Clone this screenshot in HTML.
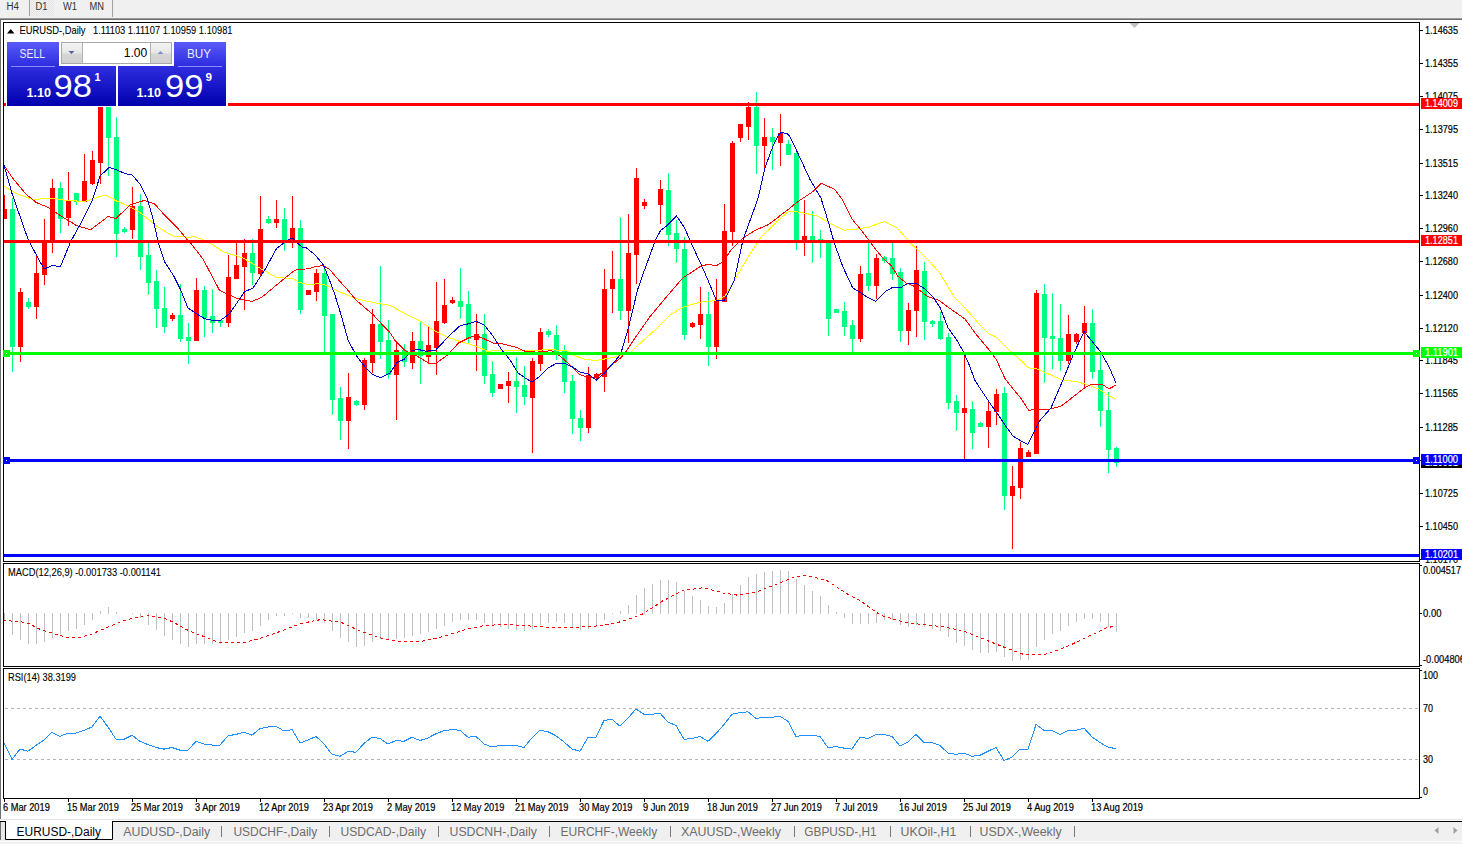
<!DOCTYPE html>
<html><head><meta charset="utf-8"><title>EURUSD Daily</title>
<style>html,body{margin:0;padding:0;background:#fff;overflow:hidden;}svg{display:block;}</style></head>
<body><svg width="1462" height="844" viewBox="0 0 1462 844">
<rect x="0" y="0" width="1462" height="18" fill="#f0f0f0"/>
<defs><linearGradient id="pg3" gradientUnits="userSpaceOnUse" x1="0" y1="42" x2="0" y2="106"><stop offset="0" stop-color="#5a5afa"/><stop offset="0.35" stop-color="#3030e2"/><stop offset="1" stop-color="#0000ae"/></linearGradient></defs>
<defs><linearGradient id="pg2" gradientUnits="userSpaceOnUse" x1="0" y1="42" x2="0" y2="106"><stop offset="0" stop-color="#5a5afa"/><stop offset="0.35" stop-color="#3030e2"/><stop offset="1" stop-color="#0000ae"/></linearGradient></defs>
<defs><pattern id="dots" width="2" height="2" patternUnits="userSpaceOnUse"><rect width="2" height="2" fill="#f4f4f4"/><rect width="1" height="1" fill="#e2e2e2"/><rect x="1" y="1" width="1" height="1" fill="#e2e2e2"/></pattern><linearGradient id="pg" x1="0" y1="0" x2="0" y2="1"><stop offset="0" stop-color="#5656f6"/><stop offset="0.4" stop-color="#2a2ad8"/><stop offset="1" stop-color="#0000aa"/></linearGradient><linearGradient id="btn" x1="0" y1="0" x2="0" y2="1"><stop offset="0" stop-color="#f4f4f4"/><stop offset="0.5" stop-color="#e6e6e6"/><stop offset="0.55" stop-color="#d6d6d6"/><stop offset="1" stop-color="#d0d0d0"/></linearGradient></defs>
<rect x="30" y="0" width="24" height="16" fill="url(#dots)"/>
<rect x="29" y="0" width="1" height="16" fill="#a0a0a0"/>
<rect x="112" y="0" width="1" height="17" fill="#a0a0a0"/>
<rect x="0" y="18" width="1462" height="1" fill="#9a9a9a"/>
<rect x="0" y="19" width="1462" height="1" fill="#6e6e6e"/>
<rect x="0" y="20" width="1" height="799" fill="#6e6e6e"/>
<rect x="3.5" y="22.5" width="1416" height="539" fill="none" stroke="#000" stroke-width="1"/>
<rect x="3.5" y="563.5" width="1416" height="103" fill="none" stroke="#000" stroke-width="1"/>
<rect x="3.5" y="668.5" width="1416" height="130" fill="none" stroke="#000" stroke-width="1"/>
<clipPath id="cm"><rect x="4" y="23" width="1415" height="538"/></clipPath>
<clipPath id="cmacd"><rect x="4" y="564" width="1415" height="102"/></clipPath>
<clipPath id="crsi"><rect x="4" y="669" width="1415" height="129"/></clipPath>
<g clip-path="url(#cm)" shape-rendering="crispEdges">
<rect x="4" y="195" width="1" height="24" fill="#ff0000"/>
<rect x="2" y="209" width="5" height="10" fill="#ff0000"/>
<rect x="12" y="198" width="1" height="174" fill="#00ff7f"/>
<rect x="10" y="209" width="5" height="138" fill="#00ff7f"/>
<rect x="20" y="288" width="1" height="74" fill="#ff0000"/>
<rect x="18" y="292" width="5" height="55" fill="#ff0000"/>
<rect x="28" y="298" width="1" height="11" fill="#00ff7f"/>
<rect x="26" y="302" width="5" height="5" fill="#00ff7f"/>
<rect x="36" y="256" width="1" height="63" fill="#ff0000"/>
<rect x="34" y="273" width="5" height="34" fill="#ff0000"/>
<rect x="44" y="219" width="1" height="66" fill="#ff0000"/>
<rect x="42" y="240" width="5" height="35" fill="#ff0000"/>
<rect x="52" y="179" width="1" height="74" fill="#ff0000"/>
<rect x="50" y="188" width="5" height="54" fill="#ff0000"/>
<rect x="60" y="182" width="1" height="51" fill="#00ff7f"/>
<rect x="58" y="188" width="5" height="31" fill="#00ff7f"/>
<rect x="68" y="172" width="1" height="54" fill="#ff0000"/>
<rect x="66" y="201" width="5" height="17" fill="#ff0000"/>
<rect x="76" y="193" width="1" height="12" fill="#00ff7f"/>
<rect x="74" y="193" width="5" height="9" fill="#00ff7f"/>
<rect x="84" y="154" width="1" height="48" fill="#ff0000"/>
<rect x="82" y="181" width="5" height="21" fill="#ff0000"/>
<rect x="92" y="151" width="1" height="34" fill="#ff0000"/>
<rect x="90" y="160" width="5" height="24" fill="#ff0000"/>
<rect x="100" y="100" width="1" height="84" fill="#ff0000"/>
<rect x="98" y="106" width="5" height="57" fill="#ff0000"/>
<rect x="108" y="100" width="1" height="76" fill="#00ff7f"/>
<rect x="106" y="106" width="5" height="32" fill="#00ff7f"/>
<rect x="116" y="117" width="1" height="140" fill="#00ff7f"/>
<rect x="114" y="137" width="5" height="97" fill="#00ff7f"/>
<rect x="124" y="227" width="1" height="6" fill="#00ff7f"/>
<rect x="122" y="229" width="5" height="3" fill="#00ff7f"/>
<rect x="132" y="187" width="1" height="52" fill="#ff0000"/>
<rect x="130" y="206" width="5" height="24" fill="#ff0000"/>
<rect x="140" y="194" width="1" height="76" fill="#00ff7f"/>
<rect x="138" y="206" width="5" height="51" fill="#00ff7f"/>
<rect x="148" y="243" width="1" height="52" fill="#00ff7f"/>
<rect x="146" y="255" width="5" height="28" fill="#00ff7f"/>
<rect x="156" y="270" width="1" height="58" fill="#00ff7f"/>
<rect x="154" y="281" width="5" height="28" fill="#00ff7f"/>
<rect x="164" y="287" width="1" height="46" fill="#00ff7f"/>
<rect x="162" y="308" width="5" height="19" fill="#00ff7f"/>
<rect x="172" y="313" width="1" height="8" fill="#ff0000"/>
<rect x="170" y="315" width="5" height="4" fill="#ff0000"/>
<rect x="180" y="284" width="1" height="58" fill="#00ff7f"/>
<rect x="178" y="315" width="5" height="24" fill="#00ff7f"/>
<rect x="188" y="323" width="1" height="41" fill="#00ff7f"/>
<rect x="186" y="337" width="5" height="4" fill="#00ff7f"/>
<rect x="196" y="278" width="1" height="63" fill="#ff0000"/>
<rect x="194" y="290" width="5" height="51" fill="#ff0000"/>
<rect x="204" y="286" width="1" height="51" fill="#00ff7f"/>
<rect x="202" y="290" width="5" height="28" fill="#00ff7f"/>
<rect x="212" y="289" width="1" height="44" fill="#00ff7f"/>
<rect x="210" y="316" width="5" height="7" fill="#00ff7f"/>
<rect x="220" y="320" width="1" height="7" fill="#00ff7f"/>
<rect x="218" y="320" width="5" height="3" fill="#00ff7f"/>
<rect x="228" y="255" width="1" height="72" fill="#ff0000"/>
<rect x="226" y="277" width="5" height="46" fill="#ff0000"/>
<rect x="236" y="243" width="1" height="36" fill="#ff0000"/>
<rect x="234" y="265" width="5" height="14" fill="#ff0000"/>
<rect x="244" y="239" width="1" height="71" fill="#ff0000"/>
<rect x="242" y="253" width="5" height="14" fill="#ff0000"/>
<rect x="252" y="239" width="1" height="46" fill="#00ff7f"/>
<rect x="250" y="253" width="5" height="20" fill="#00ff7f"/>
<rect x="260" y="196" width="1" height="81" fill="#ff0000"/>
<rect x="258" y="229" width="5" height="45" fill="#ff0000"/>
<rect x="268" y="216" width="1" height="8" fill="#00ff7f"/>
<rect x="266" y="219" width="5" height="4" fill="#00ff7f"/>
<rect x="276" y="200" width="1" height="28" fill="#ff0000"/>
<rect x="274" y="219" width="5" height="4" fill="#ff0000"/>
<rect x="284" y="208" width="1" height="43" fill="#00ff7f"/>
<rect x="282" y="219" width="5" height="24" fill="#00ff7f"/>
<rect x="292" y="196" width="1" height="52" fill="#ff0000"/>
<rect x="290" y="228" width="5" height="13" fill="#ff0000"/>
<rect x="300" y="220" width="1" height="94" fill="#00ff7f"/>
<rect x="298" y="228" width="5" height="82" fill="#00ff7f"/>
<rect x="308" y="290" width="1" height="5" fill="#ff0000"/>
<rect x="306" y="290" width="5" height="5" fill="#ff0000"/>
<rect x="316" y="269" width="1" height="32" fill="#ff0000"/>
<rect x="314" y="273" width="5" height="19" fill="#ff0000"/>
<rect x="324" y="269" width="1" height="84" fill="#00ff7f"/>
<rect x="322" y="273" width="5" height="43" fill="#00ff7f"/>
<rect x="332" y="314" width="1" height="101" fill="#00ff7f"/>
<rect x="330" y="314" width="5" height="86" fill="#00ff7f"/>
<rect x="340" y="387" width="1" height="53" fill="#00ff7f"/>
<rect x="338" y="398" width="5" height="23" fill="#00ff7f"/>
<rect x="348" y="373" width="1" height="76" fill="#ff0000"/>
<rect x="346" y="397" width="5" height="24" fill="#ff0000"/>
<rect x="356" y="400" width="1" height="6" fill="#00ff7f"/>
<rect x="354" y="401" width="5" height="4" fill="#00ff7f"/>
<rect x="364" y="358" width="1" height="52" fill="#ff0000"/>
<rect x="362" y="360" width="5" height="45" fill="#ff0000"/>
<rect x="372" y="309" width="1" height="64" fill="#ff0000"/>
<rect x="370" y="324" width="5" height="39" fill="#ff0000"/>
<rect x="380" y="266" width="1" height="93" fill="#00ff7f"/>
<rect x="378" y="324" width="5" height="18" fill="#00ff7f"/>
<rect x="388" y="320" width="1" height="59" fill="#00ff7f"/>
<rect x="386" y="340" width="5" height="35" fill="#00ff7f"/>
<rect x="396" y="342" width="1" height="78" fill="#ff0000"/>
<rect x="394" y="350" width="5" height="25" fill="#ff0000"/>
<rect x="404" y="344" width="1" height="23" fill="#00ff7f"/>
<rect x="402" y="350" width="5" height="12" fill="#00ff7f"/>
<rect x="412" y="332" width="1" height="37" fill="#ff0000"/>
<rect x="410" y="341" width="5" height="22" fill="#ff0000"/>
<rect x="420" y="322" width="1" height="62" fill="#00ff7f"/>
<rect x="418" y="341" width="5" height="15" fill="#00ff7f"/>
<rect x="428" y="326" width="1" height="37" fill="#ff0000"/>
<rect x="426" y="345" width="5" height="12" fill="#ff0000"/>
<rect x="436" y="282" width="1" height="93" fill="#ff0000"/>
<rect x="434" y="321" width="5" height="27" fill="#ff0000"/>
<rect x="444" y="279" width="1" height="45" fill="#ff0000"/>
<rect x="442" y="305" width="5" height="18" fill="#ff0000"/>
<rect x="452" y="297" width="1" height="7" fill="#ff0000"/>
<rect x="450" y="300" width="5" height="3" fill="#ff0000"/>
<rect x="460" y="268" width="1" height="51" fill="#00ff7f"/>
<rect x="458" y="301" width="5" height="6" fill="#00ff7f"/>
<rect x="468" y="291" width="1" height="52" fill="#00ff7f"/>
<rect x="466" y="304" width="5" height="35" fill="#00ff7f"/>
<rect x="476" y="314" width="1" height="57" fill="#ff0000"/>
<rect x="474" y="334" width="5" height="6" fill="#ff0000"/>
<rect x="484" y="314" width="1" height="70" fill="#00ff7f"/>
<rect x="482" y="334" width="5" height="42" fill="#00ff7f"/>
<rect x="492" y="361" width="1" height="36" fill="#00ff7f"/>
<rect x="490" y="374" width="5" height="19" fill="#00ff7f"/>
<rect x="500" y="384" width="1" height="5" fill="#ff0000"/>
<rect x="498" y="384" width="5" height="5" fill="#ff0000"/>
<rect x="508" y="372" width="1" height="31" fill="#ff0000"/>
<rect x="506" y="381" width="5" height="5" fill="#ff0000"/>
<rect x="516" y="357" width="1" height="56" fill="#00ff7f"/>
<rect x="514" y="381" width="5" height="6" fill="#00ff7f"/>
<rect x="524" y="366" width="1" height="39" fill="#00ff7f"/>
<rect x="522" y="385" width="5" height="12" fill="#00ff7f"/>
<rect x="532" y="358" width="1" height="95" fill="#ff0000"/>
<rect x="530" y="361" width="5" height="37" fill="#ff0000"/>
<rect x="540" y="328" width="1" height="43" fill="#ff0000"/>
<rect x="538" y="332" width="5" height="32" fill="#ff0000"/>
<rect x="548" y="329" width="1" height="8" fill="#00ff7f"/>
<rect x="546" y="331" width="5" height="4" fill="#00ff7f"/>
<rect x="556" y="325" width="1" height="35" fill="#00ff7f"/>
<rect x="554" y="335" width="5" height="17" fill="#00ff7f"/>
<rect x="564" y="345" width="1" height="48" fill="#00ff7f"/>
<rect x="562" y="351" width="5" height="31" fill="#00ff7f"/>
<rect x="572" y="375" width="1" height="59" fill="#00ff7f"/>
<rect x="570" y="381" width="5" height="38" fill="#00ff7f"/>
<rect x="580" y="410" width="1" height="31" fill="#00ff7f"/>
<rect x="578" y="418" width="5" height="10" fill="#00ff7f"/>
<rect x="588" y="367" width="1" height="66" fill="#ff0000"/>
<rect x="586" y="375" width="5" height="53" fill="#ff0000"/>
<rect x="596" y="373" width="1" height="7" fill="#ff0000"/>
<rect x="594" y="374" width="5" height="4" fill="#ff0000"/>
<rect x="604" y="269" width="1" height="123" fill="#ff0000"/>
<rect x="602" y="289" width="5" height="88" fill="#ff0000"/>
<rect x="612" y="251" width="1" height="62" fill="#ff0000"/>
<rect x="610" y="279" width="5" height="10" fill="#ff0000"/>
<rect x="620" y="217" width="1" height="103" fill="#00ff7f"/>
<rect x="618" y="279" width="5" height="32" fill="#00ff7f"/>
<rect x="628" y="214" width="1" height="129" fill="#ff0000"/>
<rect x="626" y="253" width="5" height="58" fill="#ff0000"/>
<rect x="636" y="168" width="1" height="116" fill="#ff0000"/>
<rect x="634" y="178" width="5" height="77" fill="#ff0000"/>
<rect x="644" y="199" width="1" height="10" fill="#ff0000"/>
<rect x="642" y="202" width="5" height="4" fill="#ff0000"/>
<rect x="660" y="180" width="1" height="44" fill="#ff0000"/>
<rect x="658" y="189" width="5" height="16" fill="#ff0000"/>
<rect x="668" y="173" width="1" height="73" fill="#00ff7f"/>
<rect x="666" y="190" width="5" height="45" fill="#00ff7f"/>
<rect x="676" y="220" width="1" height="43" fill="#00ff7f"/>
<rect x="674" y="233" width="5" height="16" fill="#00ff7f"/>
<rect x="684" y="237" width="1" height="103" fill="#00ff7f"/>
<rect x="682" y="249" width="5" height="86" fill="#00ff7f"/>
<rect x="692" y="322" width="1" height="6" fill="#ff0000"/>
<rect x="690" y="323" width="5" height="4" fill="#ff0000"/>
<rect x="700" y="287" width="1" height="52" fill="#ff0000"/>
<rect x="698" y="314" width="5" height="11" fill="#ff0000"/>
<rect x="708" y="292" width="1" height="74" fill="#00ff7f"/>
<rect x="706" y="314" width="5" height="33" fill="#00ff7f"/>
<rect x="716" y="279" width="1" height="80" fill="#ff0000"/>
<rect x="714" y="301" width="5" height="46" fill="#ff0000"/>
<rect x="724" y="204" width="1" height="98" fill="#ff0000"/>
<rect x="722" y="231" width="5" height="71" fill="#ff0000"/>
<rect x="732" y="141" width="1" height="105" fill="#ff0000"/>
<rect x="730" y="143" width="5" height="89" fill="#ff0000"/>
<rect x="740" y="124" width="1" height="18" fill="#ff0000"/>
<rect x="738" y="124" width="5" height="14" fill="#ff0000"/>
<rect x="748" y="102" width="1" height="38" fill="#ff0000"/>
<rect x="746" y="107" width="5" height="20" fill="#ff0000"/>
<rect x="756" y="92" width="1" height="82" fill="#00ff7f"/>
<rect x="754" y="107" width="5" height="39" fill="#00ff7f"/>
<rect x="764" y="118" width="1" height="51" fill="#ff0000"/>
<rect x="762" y="137" width="5" height="9" fill="#ff0000"/>
<rect x="772" y="128" width="1" height="42" fill="#00ff7f"/>
<rect x="770" y="137" width="5" height="5" fill="#00ff7f"/>
<rect x="780" y="114" width="1" height="52" fill="#ff0000"/>
<rect x="778" y="133" width="5" height="10" fill="#ff0000"/>
<rect x="788" y="140" width="1" height="15" fill="#00ff7f"/>
<rect x="786" y="144" width="5" height="11" fill="#00ff7f"/>
<rect x="796" y="149" width="1" height="101" fill="#00ff7f"/>
<rect x="794" y="153" width="5" height="88" fill="#00ff7f"/>
<rect x="804" y="200" width="1" height="56" fill="#ff0000"/>
<rect x="802" y="236" width="5" height="5" fill="#ff0000"/>
<rect x="812" y="211" width="1" height="52" fill="#00ff7f"/>
<rect x="810" y="236" width="5" height="5" fill="#00ff7f"/>
<rect x="820" y="230" width="1" height="28" fill="#00ff7f"/>
<rect x="818" y="239" width="5" height="2" fill="#00ff7f"/>
<rect x="828" y="240" width="1" height="96" fill="#00ff7f"/>
<rect x="826" y="240" width="5" height="79" fill="#00ff7f"/>
<rect x="836" y="309" width="1" height="4" fill="#00ff7f"/>
<rect x="834" y="309" width="5" height="4" fill="#00ff7f"/>
<rect x="844" y="302" width="1" height="34" fill="#00ff7f"/>
<rect x="842" y="311" width="5" height="16" fill="#00ff7f"/>
<rect x="852" y="320" width="1" height="32" fill="#00ff7f"/>
<rect x="850" y="325" width="5" height="14" fill="#00ff7f"/>
<rect x="860" y="266" width="1" height="76" fill="#ff0000"/>
<rect x="858" y="274" width="5" height="65" fill="#ff0000"/>
<rect x="868" y="242" width="1" height="49" fill="#00ff7f"/>
<rect x="866" y="273" width="5" height="13" fill="#00ff7f"/>
<rect x="876" y="254" width="1" height="45" fill="#ff0000"/>
<rect x="874" y="258" width="5" height="28" fill="#ff0000"/>
<rect x="884" y="256" width="1" height="7" fill="#00ff7f"/>
<rect x="882" y="257" width="5" height="4" fill="#00ff7f"/>
<rect x="892" y="243" width="1" height="37" fill="#00ff7f"/>
<rect x="890" y="258" width="5" height="16" fill="#00ff7f"/>
<rect x="900" y="268" width="1" height="74" fill="#00ff7f"/>
<rect x="898" y="272" width="5" height="59" fill="#00ff7f"/>
<rect x="908" y="303" width="1" height="42" fill="#ff0000"/>
<rect x="906" y="310" width="5" height="21" fill="#ff0000"/>
<rect x="916" y="246" width="1" height="91" fill="#ff0000"/>
<rect x="914" y="270" width="5" height="41" fill="#ff0000"/>
<rect x="924" y="262" width="1" height="78" fill="#00ff7f"/>
<rect x="922" y="271" width="5" height="51" fill="#00ff7f"/>
<rect x="932" y="320" width="1" height="7" fill="#00ff7f"/>
<rect x="930" y="321" width="5" height="3" fill="#00ff7f"/>
<rect x="940" y="312" width="1" height="28" fill="#00ff7f"/>
<rect x="938" y="321" width="5" height="18" fill="#00ff7f"/>
<rect x="948" y="333" width="1" height="76" fill="#00ff7f"/>
<rect x="946" y="337" width="5" height="66" fill="#00ff7f"/>
<rect x="956" y="395" width="1" height="36" fill="#00ff7f"/>
<rect x="954" y="401" width="5" height="12" fill="#00ff7f"/>
<rect x="964" y="355" width="1" height="104" fill="#ff0000"/>
<rect x="962" y="408" width="5" height="5" fill="#ff0000"/>
<rect x="972" y="401" width="1" height="48" fill="#00ff7f"/>
<rect x="970" y="409" width="5" height="24" fill="#00ff7f"/>
<rect x="980" y="422" width="1" height="5" fill="#00ff7f"/>
<rect x="978" y="423" width="5" height="4" fill="#00ff7f"/>
<rect x="988" y="401" width="1" height="47" fill="#ff0000"/>
<rect x="986" y="411" width="5" height="16" fill="#ff0000"/>
<rect x="996" y="389" width="1" height="36" fill="#ff0000"/>
<rect x="994" y="394" width="5" height="18" fill="#ff0000"/>
<rect x="1004" y="387" width="1" height="123" fill="#00ff7f"/>
<rect x="1002" y="393" width="5" height="103" fill="#00ff7f"/>
<rect x="1012" y="466" width="1" height="83" fill="#ff0000"/>
<rect x="1010" y="486" width="5" height="10" fill="#ff0000"/>
<rect x="1020" y="442" width="1" height="57" fill="#ff0000"/>
<rect x="1018" y="448" width="5" height="40" fill="#ff0000"/>
<rect x="1028" y="450" width="1" height="7" fill="#ff0000"/>
<rect x="1026" y="452" width="5" height="5" fill="#ff0000"/>
<rect x="1036" y="290" width="1" height="164" fill="#ff0000"/>
<rect x="1034" y="293" width="5" height="161" fill="#ff0000"/>
<rect x="1044" y="284" width="1" height="99" fill="#00ff7f"/>
<rect x="1042" y="294" width="5" height="44" fill="#00ff7f"/>
<rect x="1052" y="293" width="1" height="76" fill="#00ff7f"/>
<rect x="1050" y="336" width="5" height="3" fill="#00ff7f"/>
<rect x="1060" y="304" width="1" height="67" fill="#00ff7f"/>
<rect x="1058" y="338" width="5" height="23" fill="#00ff7f"/>
<rect x="1068" y="315" width="1" height="49" fill="#ff0000"/>
<rect x="1066" y="334" width="5" height="27" fill="#ff0000"/>
<rect x="1076" y="333" width="1" height="11" fill="#ff0000"/>
<rect x="1074" y="334" width="5" height="8" fill="#ff0000"/>
<rect x="1084" y="306" width="1" height="83" fill="#ff0000"/>
<rect x="1082" y="323" width="5" height="10" fill="#ff0000"/>
<rect x="1092" y="309" width="1" height="70" fill="#00ff7f"/>
<rect x="1090" y="323" width="5" height="49" fill="#00ff7f"/>
<rect x="1100" y="355" width="1" height="72" fill="#00ff7f"/>
<rect x="1098" y="370" width="5" height="41" fill="#00ff7f"/>
<rect x="1108" y="392" width="1" height="81" fill="#00ff7f"/>
<rect x="1106" y="410" width="5" height="40" fill="#00ff7f"/>
<rect x="1116" y="447" width="1" height="20" fill="#00ff7f"/>
<rect x="1114" y="448" width="5" height="15" fill="#00ff7f"/>
</g>
<g clip-path="url(#cm)">
<polyline points="4.0,186.3 16.0,193.4 32.3,199.4 52.4,198.4 66.5,200.4 84.7,201.5 94.8,198.4 100.0,196.4 106.0,195.2 116.0,200.8 128.3,205.8 140.4,212.9 156.5,226.0 172.6,236.0 186.7,237.1 195.2,236.9 202.7,239.7 212.9,245.0 223.6,252.0 242.6,257.7 261.5,269.1 276.7,277.6 293.7,278.6 298.3,282.0 308.2,284.6 318.2,283.7 326.5,285.4 336.4,290.4 348.0,295.4 359.7,299.5 372.9,302.5 390.0,305.3 400.6,311.4 420.5,321.4 433.8,330.5 447.0,337.1 460.3,341.6 473.6,345.4 484.0,349.6 486.6,351.1 511.5,350.6 553.0,349.8 566.2,350.6 574.5,355.6 584.2,359.0 595.8,360.7 614.4,357.1 630.4,352.5 641.0,342.4 657.0,328.2 670.0,314.9 682.7,307.4 698.6,302.4 716.4,300.6 725.3,295.8 734.2,280.7 746.6,259.4 760.8,237.2 772.0,226.5 778.0,220.6 788.7,211.2 801.2,212.3 817.8,216.2 831.0,224.0 844.3,230.1 854.2,229.4 868.0,227.3 884.0,221.6 897.2,228.0 910.0,242.5 928.2,259.9 939.9,273.2 954.8,298.0 968.0,311.3 979.7,324.6 989.6,334.5 996.2,337.0 1010.0,351.1 1021.3,360.7 1027.9,367.8 1036.2,368.5 1045.0,372.5 1062.9,380.3 1076.3,381.5 1086.7,384.5 1098.7,389.0 1107.6,394.9 1115.9,399.4" fill="none" stroke="#ffff00" stroke-width="1" shape-rendering="crispEdges" />
<polyline points="4.0,165.2 12.0,177.3 26.2,194.4 36.3,202.5 48.4,207.5 60.5,215.6 76.6,225.6 90.7,229.7 100.0,222.6 108.0,216.5 116.0,218.5 130.3,204.8 144.4,200.4 154.5,203.8 164.5,215.0 176.6,227.0 186.7,239.1 191.4,244.0 203.0,259.0 211.3,274.8 219.6,290.5 226.2,293.4 236.9,298.5 252.0,301.3 261.5,297.5 278.6,283.3 293.7,271.0 296.6,269.7 308.2,268.8 314.9,266.7 323.2,265.5 329.8,269.7 339.8,281.3 348.0,290.4 356.3,300.3 364.6,307.5 372.9,314.4 381.2,323.5 390.0,332.7 395.6,341.3 405.6,350.9 417.2,356.2 428.8,363.2 436.2,363.2 447.0,355.4 458.6,343.0 470.2,337.1 476.9,336.0 484.0,338.8 493.3,343.2 503.2,344.0 516.5,347.3 524.8,351.1 538.0,352.3 551.3,350.6 559.6,355.6 567.9,363.0 580.0,374.7 587.8,377.0 596.6,377.4 605.5,370.0 621.5,357.1 626.8,350.4 637.5,334.4 650.0,316.6 670.0,292.7 682.7,278.0 700.4,266.5 707.5,264.4 716.4,265.6 723.5,261.5 730.6,250.5 743.0,238.0 755.5,230.1 768.0,224.8 784.6,212.3 797.9,201.6 812.8,191.6 821.1,183.3 834.3,189.1 842.6,199.9 852.6,219.8 860.9,229.8 868.1,239.1 874.7,248.2 883.0,258.2 891.3,265.7 898.0,276.4 906.2,283.0 914.5,286.4 920.0,290.5 926.6,296.0 939.0,300.5 948.1,307.2 956.4,313.0 964.7,318.8 976.3,334.5 988.0,348.6 996.2,359.4 1004.7,378.1 1013.0,388.9 1021.3,398.8 1028.7,410.4 1034.5,409.3 1040.0,409.3 1050.0,409.0 1061.4,406.0 1071.8,397.9 1084.5,387.8 1091.2,384.2 1101.7,384.2 1109.1,388.7 1115.9,385.2" fill="none" stroke="#ff0000" stroke-width="1" shape-rendering="crispEdges" />
<polyline points="4.0,165.2 12.0,193.4 28.2,239.8 44.0,269.0 52.4,265.6 60.5,266.6 70.6,241.8 80.6,223.6 92.7,199.4 100.0,176.2 109.0,167.5 116.0,169.6 125.2,173.6 132.3,175.0 140.4,184.7 147.4,198.8 152.5,217.0 158.5,243.1 164.8,262.3 173.1,274.8 179.8,288.0 188.0,308.0 196.3,313.7 204.6,318.7 212.9,320.4 220.4,320.4 226.2,316.2 230.0,313.0 244.5,291.8 253.0,288.0 265.3,269.1 276.7,248.2 290.0,238.8 292.5,238.1 296.6,242.3 301.6,246.8 306.6,248.0 314.9,254.7 323.2,264.7 328.1,276.3 334.8,294.5 341.4,316.0 348.0,340.0 356.3,355.7 364.6,366.4 372.9,374.7 380.4,377.7 390.0,373.0 397.3,362.0 403.9,359.5 412.2,350.4 418.8,349.6 425.5,351.2 435.4,350.4 448.7,336.3 460.3,325.5 468.6,323.8 476.0,321.4 484.0,324.7 493.3,336.5 501.6,349.8 509.9,359.8 518.1,373.0 526.4,378.8 532.2,382.1 539.7,376.3 548.0,368.0 556.3,363.4 564.6,363.4 572.9,367.2 580.0,372.2 587.8,373.8 596.3,380.2 605.5,372.0 618.8,356.6 621.5,351.3 628.6,327.3 637.5,290.0 642.3,276.0 649.0,257.8 655.6,239.6 660.6,230.5 667.2,225.5 676.4,215.9 684.4,227.4 689.8,239.9 700.4,263.0 707.5,279.0 716.4,300.6 724.4,300.6 734.2,280.7 743.0,239.9 752.0,215.0 758.2,197.8 764.9,168.0 772.8,146.5 778.7,134.8 781.3,132.4 787.0,133.7 789.3,135.8 796.2,149.7 810.3,180.0 821.0,198.2 827.7,219.8 834.3,243.0 842.6,266.2 852.6,287.8 860.9,292.8 868.0,297.7 876.0,301.3 886.3,291.0 893.0,287.2 901.3,287.2 907.9,283.4 916.2,283.4 925.0,289.0 933.2,297.2 939.9,307.2 948.1,327.9 956.4,339.5 963.1,351.1 969.7,366.0 974.7,380.0 979.8,388.0 989.8,403.0 998.0,414.6 1006.3,427.0 1013.0,436.0 1021.3,441.1 1027.9,444.4 1034.5,431.2 1040.0,420.4 1051.0,408.0 1062.9,380.0 1073.3,354.6 1084.0,331.5 1100.2,351.3 1109.1,366.9 1115.9,382.7" fill="none" stroke="#0000c8" stroke-width="1" shape-rendering="crispEdges" />
</g>
<g shape-rendering="crispEdges">
<rect x="4" y="103" width="1415" height="3" fill="#ff0000"/>
<rect x="4" y="240" width="1415" height="3" fill="#ff0000"/>
<rect x="4" y="352" width="1415" height="3" fill="#00ff00"/>
<rect x="4" y="459" width="1415" height="3" fill="#0000ff"/>
<rect x="4" y="554" width="1415" height="3" fill="#0000ff"/>
<rect x="3" y="350" width="7" height="7" fill="#00ff00"/><rect x="6" y="353" width="1" height="1" fill="#fff"/>
<rect x="1413" y="350" width="7" height="7" fill="#00ff00"/><rect x="1416" y="353" width="1" height="1" fill="#fff"/>
<rect x="3" y="457" width="7" height="7" fill="#0000ff"/><rect x="6" y="460" width="1" height="1" fill="#fff"/>
<rect x="1413" y="457" width="7" height="7" fill="#0000ff"/><rect x="1416" y="460" width="1" height="1" fill="#fff"/>
</g>
<polygon points="1129.5,23 1139.5,23 1134.5,28" fill="#c0c0c0"/>
<g clip-path="url(#cmacd)" shape-rendering="crispEdges">
<rect x="4" y="613" width="1" height="7" fill="#c0c0c0"/>
<rect x="12" y="613" width="1" height="22" fill="#c0c0c0"/>
<rect x="20" y="613" width="1" height="27" fill="#c0c0c0"/>
<rect x="28" y="613" width="1" height="31" fill="#c0c0c0"/>
<rect x="36" y="613" width="1" height="31" fill="#c0c0c0"/>
<rect x="44" y="613" width="1" height="29" fill="#c0c0c0"/>
<rect x="52" y="613" width="1" height="25" fill="#c0c0c0"/>
<rect x="60" y="613" width="1" height="21" fill="#c0c0c0"/>
<rect x="68" y="613" width="1" height="18" fill="#c0c0c0"/>
<rect x="76" y="613" width="1" height="16" fill="#c0c0c0"/>
<rect x="84" y="613" width="1" height="12" fill="#c0c0c0"/>
<rect x="92" y="613" width="1" height="7" fill="#c0c0c0"/>
<rect x="100" y="611" width="1" height="3" fill="#c0c0c0"/>
<rect x="108" y="607" width="1" height="7" fill="#c0c0c0"/>
<rect x="116" y="612" width="1" height="2" fill="#c0c0c0"/>
<rect x="132" y="613" width="1" height="1" fill="#c0c0c0"/>
<rect x="140" y="613" width="1" height="5" fill="#c0c0c0"/>
<rect x="148" y="613" width="1" height="12" fill="#c0c0c0"/>
<rect x="156" y="613" width="1" height="17" fill="#c0c0c0"/>
<rect x="164" y="613" width="1" height="23" fill="#c0c0c0"/>
<rect x="172" y="613" width="1" height="27" fill="#c0c0c0"/>
<rect x="180" y="613" width="1" height="31" fill="#c0c0c0"/>
<rect x="188" y="613" width="1" height="34" fill="#c0c0c0"/>
<rect x="196" y="613" width="1" height="31" fill="#c0c0c0"/>
<rect x="204" y="613" width="1" height="31" fill="#c0c0c0"/>
<rect x="212" y="613" width="1" height="31" fill="#c0c0c0"/>
<rect x="220" y="613" width="1" height="31" fill="#c0c0c0"/>
<rect x="228" y="613" width="1" height="27" fill="#c0c0c0"/>
<rect x="236" y="613" width="1" height="24" fill="#c0c0c0"/>
<rect x="244" y="613" width="1" height="20" fill="#c0c0c0"/>
<rect x="252" y="613" width="1" height="18" fill="#c0c0c0"/>
<rect x="260" y="613" width="1" height="13" fill="#c0c0c0"/>
<rect x="268" y="613" width="1" height="7" fill="#c0c0c0"/>
<rect x="276" y="613" width="1" height="3" fill="#c0c0c0"/>
<rect x="284" y="613" width="1" height="3" fill="#c0c0c0"/>
<rect x="292" y="613" width="1" height="1" fill="#c0c0c0"/>
<rect x="300" y="613" width="1" height="5" fill="#c0c0c0"/>
<rect x="308" y="613" width="1" height="5" fill="#c0c0c0"/>
<rect x="316" y="613" width="1" height="7" fill="#c0c0c0"/>
<rect x="324" y="613" width="1" height="10" fill="#c0c0c0"/>
<rect x="332" y="613" width="1" height="18" fill="#c0c0c0"/>
<rect x="340" y="613" width="1" height="25" fill="#c0c0c0"/>
<rect x="348" y="613" width="1" height="29" fill="#c0c0c0"/>
<rect x="356" y="613" width="1" height="34" fill="#c0c0c0"/>
<rect x="364" y="613" width="1" height="33" fill="#c0c0c0"/>
<rect x="372" y="613" width="1" height="29" fill="#c0c0c0"/>
<rect x="380" y="613" width="1" height="26" fill="#c0c0c0"/>
<rect x="388" y="613" width="1" height="27" fill="#c0c0c0"/>
<rect x="396" y="613" width="1" height="26" fill="#c0c0c0"/>
<rect x="404" y="613" width="1" height="25" fill="#c0c0c0"/>
<rect x="412" y="613" width="1" height="23" fill="#c0c0c0"/>
<rect x="420" y="613" width="1" height="21" fill="#c0c0c0"/>
<rect x="428" y="613" width="1" height="19" fill="#c0c0c0"/>
<rect x="436" y="613" width="1" height="16" fill="#c0c0c0"/>
<rect x="444" y="613" width="1" height="13" fill="#c0c0c0"/>
<rect x="452" y="613" width="1" height="9" fill="#c0c0c0"/>
<rect x="460" y="613" width="1" height="7" fill="#c0c0c0"/>
<rect x="468" y="613" width="1" height="7" fill="#c0c0c0"/>
<rect x="476" y="613" width="1" height="7" fill="#c0c0c0"/>
<rect x="484" y="613" width="1" height="10" fill="#c0c0c0"/>
<rect x="492" y="613" width="1" height="12" fill="#c0c0c0"/>
<rect x="500" y="613" width="1" height="14" fill="#c0c0c0"/>
<rect x="508" y="613" width="1" height="16" fill="#c0c0c0"/>
<rect x="516" y="613" width="1" height="17" fill="#c0c0c0"/>
<rect x="524" y="613" width="1" height="18" fill="#c0c0c0"/>
<rect x="532" y="613" width="1" height="16" fill="#c0c0c0"/>
<rect x="540" y="613" width="1" height="12" fill="#c0c0c0"/>
<rect x="548" y="613" width="1" height="10" fill="#c0c0c0"/>
<rect x="556" y="613" width="1" height="9" fill="#c0c0c0"/>
<rect x="564" y="613" width="1" height="10" fill="#c0c0c0"/>
<rect x="572" y="613" width="1" height="14" fill="#c0c0c0"/>
<rect x="580" y="613" width="1" height="17" fill="#c0c0c0"/>
<rect x="588" y="613" width="1" height="16" fill="#c0c0c0"/>
<rect x="596" y="613" width="1" height="14" fill="#c0c0c0"/>
<rect x="604" y="613" width="1" height="7" fill="#c0c0c0"/>
<rect x="612" y="613" width="1" height="1" fill="#c0c0c0"/>
<rect x="620" y="611" width="1" height="3" fill="#c0c0c0"/>
<rect x="628" y="605" width="1" height="9" fill="#c0c0c0"/>
<rect x="636" y="595" width="1" height="19" fill="#c0c0c0"/>
<rect x="644" y="588" width="1" height="26" fill="#c0c0c0"/>
<rect x="652" y="584" width="1" height="30" fill="#c0c0c0"/>
<rect x="660" y="580" width="1" height="34" fill="#c0c0c0"/>
<rect x="668" y="580" width="1" height="34" fill="#c0c0c0"/>
<rect x="676" y="582" width="1" height="32" fill="#c0c0c0"/>
<rect x="684" y="591" width="1" height="23" fill="#c0c0c0"/>
<rect x="692" y="596" width="1" height="18" fill="#c0c0c0"/>
<rect x="700" y="600" width="1" height="14" fill="#c0c0c0"/>
<rect x="708" y="606" width="1" height="8" fill="#c0c0c0"/>
<rect x="716" y="607" width="1" height="7" fill="#c0c0c0"/>
<rect x="724" y="603" width="1" height="11" fill="#c0c0c0"/>
<rect x="732" y="594" width="1" height="20" fill="#c0c0c0"/>
<rect x="740" y="585" width="1" height="29" fill="#c0c0c0"/>
<rect x="748" y="577" width="1" height="37" fill="#c0c0c0"/>
<rect x="756" y="574" width="1" height="40" fill="#c0c0c0"/>
<rect x="764" y="572" width="1" height="42" fill="#c0c0c0"/>
<rect x="772" y="571" width="1" height="43" fill="#c0c0c0"/>
<rect x="780" y="570" width="1" height="44" fill="#c0c0c0"/>
<rect x="788" y="571" width="1" height="43" fill="#c0c0c0"/>
<rect x="796" y="579" width="1" height="35" fill="#c0c0c0"/>
<rect x="804" y="585" width="1" height="29" fill="#c0c0c0"/>
<rect x="812" y="591" width="1" height="23" fill="#c0c0c0"/>
<rect x="820" y="596" width="1" height="18" fill="#c0c0c0"/>
<rect x="828" y="605" width="1" height="9" fill="#c0c0c0"/>
<rect x="836" y="612" width="1" height="2" fill="#c0c0c0"/>
<rect x="844" y="613" width="1" height="5" fill="#c0c0c0"/>
<rect x="852" y="613" width="1" height="11" fill="#c0c0c0"/>
<rect x="860" y="613" width="1" height="11" fill="#c0c0c0"/>
<rect x="868" y="613" width="1" height="11" fill="#c0c0c0"/>
<rect x="876" y="613" width="1" height="10" fill="#c0c0c0"/>
<rect x="884" y="613" width="1" height="7" fill="#c0c0c0"/>
<rect x="892" y="613" width="1" height="7" fill="#c0c0c0"/>
<rect x="900" y="613" width="1" height="12" fill="#c0c0c0"/>
<rect x="908" y="613" width="1" height="14" fill="#c0c0c0"/>
<rect x="916" y="613" width="1" height="12" fill="#c0c0c0"/>
<rect x="924" y="613" width="1" height="14" fill="#c0c0c0"/>
<rect x="932" y="613" width="1" height="16" fill="#c0c0c0"/>
<rect x="940" y="613" width="1" height="18" fill="#c0c0c0"/>
<rect x="948" y="613" width="1" height="24" fill="#c0c0c0"/>
<rect x="956" y="613" width="1" height="30" fill="#c0c0c0"/>
<rect x="964" y="613" width="1" height="33" fill="#c0c0c0"/>
<rect x="972" y="613" width="1" height="37" fill="#c0c0c0"/>
<rect x="980" y="613" width="1" height="40" fill="#c0c0c0"/>
<rect x="988" y="613" width="1" height="40" fill="#c0c0c0"/>
<rect x="996" y="613" width="1" height="39" fill="#c0c0c0"/>
<rect x="1004" y="613" width="1" height="44" fill="#c0c0c0"/>
<rect x="1012" y="613" width="1" height="48" fill="#c0c0c0"/>
<rect x="1020" y="613" width="1" height="47" fill="#c0c0c0"/>
<rect x="1028" y="613" width="1" height="47" fill="#c0c0c0"/>
<rect x="1036" y="613" width="1" height="34" fill="#c0c0c0"/>
<rect x="1044" y="613" width="1" height="27" fill="#c0c0c0"/>
<rect x="1052" y="613" width="1" height="21" fill="#c0c0c0"/>
<rect x="1060" y="613" width="1" height="18" fill="#c0c0c0"/>
<rect x="1068" y="613" width="1" height="13" fill="#c0c0c0"/>
<rect x="1076" y="613" width="1" height="9" fill="#c0c0c0"/>
<rect x="1084" y="613" width="1" height="6" fill="#c0c0c0"/>
<rect x="1092" y="613" width="1" height="6" fill="#c0c0c0"/>
<rect x="1100" y="613" width="1" height="9" fill="#c0c0c0"/>
<rect x="1108" y="613" width="1" height="14" fill="#c0c0c0"/>
<rect x="1116" y="613" width="1" height="19" fill="#c0c0c0"/>
</g>
<g clip-path="url(#cmacd)">
<polyline points="3.0,620.5 20.5,621.6 28.7,623.6 41.0,629.8 51.0,632.8 65.7,637.0 78.0,638.0 92.0,633.9 108.8,626.7 127.0,619.5 147.8,615.8 164.0,617.9 174.0,622.6 188.8,630.8 205.0,637.0 217.5,642.0 242.0,643.0 254.5,640.0 271.0,634.9 287.0,628.7 300.5,623.6 321.0,619.5 341.5,622.6 362.0,631.8 382.6,638.4 403.0,642.0 423.6,641.0 444.0,636.3 464.7,629.8 485.0,625.3 505.7,624.6 526.0,625.7 546.8,627.3 577.0,627.3 601.0,625.7 621.6,621.6 642.0,614.4 662.6,601.0 683.0,590.4 703.6,587.7 724.0,593.2 738.5,595.3 755.0,592.4 775.5,584.6 796.0,576.4 806.3,575.4 826.8,580.5 847.3,593.9 860.5,601.0 881.0,615.4 901.6,621.6 922.0,624.6 942.6,626.7 963.0,630.8 983.6,639.0 1004.0,647.2 1024.7,654.8 1045.0,654.4 1065.7,647.2 1086.0,637.6 1106.8,627.7 1116.0,626.0" fill="none" stroke="#ff0000" stroke-width="1" shape-rendering="crispEdges" stroke-dasharray="3,3"/>
</g>
<g shape-rendering="crispEdges">
<line x1="5" y1="708.5" x2="1419" y2="708.5" stroke="#b4b4b4" stroke-dasharray="3,3"/>
<line x1="5" y1="759.5" x2="1419" y2="759.5" stroke="#b4b4b4" stroke-dasharray="3,3"/>
</g>
<g clip-path="url(#crsi)"><polyline points="4.0,743.0 12.0,759.4 20.0,749.1 28.0,751.2 36.0,745.4 44.0,740.0 52.0,732.3 60.0,736.4 68.0,733.1 76.0,733.1 84.0,730.3 92.0,727.0 100.0,716.3 108.0,727.0 116.0,739.3 124.0,739.3 132.0,735.2 140.0,741.3 148.0,744.6 156.0,747.5 164.0,749.1 172.0,747.5 180.0,750.2 188.0,750.2 196.0,741.3 204.0,744.0 212.0,745.0 220.0,745.0 228.0,735.8 236.0,734.4 244.0,732.3 252.0,735.2 260.0,728.6 268.0,727.0 276.0,726.2 284.0,731.0 292.0,729.6 300.0,743.0 308.0,740.0 316.0,736.4 324.0,744.0 332.0,754.3 340.0,756.3 348.0,751.6 356.0,752.2 364.0,743.4 372.0,737.2 380.0,738.5 388.0,744.0 396.0,740.5 404.0,741.3 412.0,737.2 420.0,740.5 428.0,737.9 436.0,733.7 444.0,730.7 452.0,729.6 460.0,730.3 468.0,737.2 476.0,736.4 484.0,744.0 492.0,747.0 500.0,745.4 508.0,745.4 516.0,745.4 524.0,747.5 532.0,737.9 540.0,730.3 548.0,731.7 556.0,735.8 564.0,742.0 572.0,749.1 580.0,751.2 588.0,737.2 596.0,737.2 604.0,720.4 612.0,719.4 620.0,726.2 628.0,718.0 636.0,709.1 644.0,714.3 652.0,714.3 660.0,713.2 668.0,722.0 676.0,725.5 684.0,739.3 692.0,738.5 700.0,736.4 708.0,741.3 716.0,733.7 724.0,724.5 732.0,714.3 740.0,712.6 748.0,711.8 756.0,718.4 764.0,717.3 772.0,717.3 780.0,716.3 788.0,721.4 796.0,736.4 804.0,735.2 812.0,735.2 820.0,736.4 828.0,747.5 836.0,746.7 844.0,748.1 852.0,749.1 860.0,737.2 868.0,738.5 876.0,734.4 884.0,734.4 892.0,736.4 900.0,746.0 908.0,742.0 916.0,734.4 924.0,742.6 932.0,742.6 940.0,745.4 948.0,753.2 956.0,754.3 964.0,753.2 972.0,756.3 980.0,755.3 988.0,751.2 996.0,747.5 1004.0,760.4 1012.0,757.3 1020.0,749.1 1028.0,749.1 1036.0,724.5 1044.0,730.3 1052.0,730.3 1060.0,734.4 1068.0,730.3 1076.0,730.3 1084.0,728.2 1092.0,736.8 1100.0,742.6 1108.0,747.1 1116.0,748.7" fill="none" stroke="#1e90ff" stroke-width="1" shape-rendering="crispEdges" /></g>
<g shape-rendering="crispEdges">
<rect x="1420" y="30" width="3" height="1" fill="#000"/>
<rect x="1420" y="63" width="3" height="1" fill="#000"/>
<rect x="1420" y="96" width="3" height="1" fill="#000"/>
<rect x="1420" y="129" width="3" height="1" fill="#000"/>
<rect x="1420" y="163" width="3" height="1" fill="#000"/>
<rect x="1420" y="195" width="3" height="1" fill="#000"/>
<rect x="1420" y="228" width="3" height="1" fill="#000"/>
<rect x="1420" y="261" width="3" height="1" fill="#000"/>
<rect x="1420" y="295" width="3" height="1" fill="#000"/>
<rect x="1420" y="328" width="3" height="1" fill="#000"/>
<rect x="1420" y="360" width="3" height="1" fill="#000"/>
<rect x="1420" y="393" width="3" height="1" fill="#000"/>
<rect x="1420" y="427" width="3" height="1" fill="#000"/>
<rect x="1420" y="460" width="3" height="1" fill="#000"/>
<rect x="1420" y="493" width="3" height="1" fill="#000"/>
<rect x="1420" y="526" width="3" height="1" fill="#000"/>
<rect x="1420" y="559" width="3" height="1" fill="#000"/>
</g>
<text x="1425" y="34" font-family='"Liberation Sans", sans-serif' font-size="10.5" fill="#000" font-weight="normal" text-anchor="start" textLength="33" lengthAdjust="spacingAndGlyphs" stroke="#000" stroke-width="0.2">1.14635</text>
<text x="1425" y="67" font-family='"Liberation Sans", sans-serif' font-size="10.5" fill="#000" font-weight="normal" text-anchor="start" textLength="33" lengthAdjust="spacingAndGlyphs" stroke="#000" stroke-width="0.2">1.14355</text>
<text x="1425" y="100" font-family='"Liberation Sans", sans-serif' font-size="10.5" fill="#000" font-weight="normal" text-anchor="start" textLength="33" lengthAdjust="spacingAndGlyphs" stroke="#000" stroke-width="0.2">1.14075</text>
<text x="1425" y="133" font-family='"Liberation Sans", sans-serif' font-size="10.5" fill="#000" font-weight="normal" text-anchor="start" textLength="33" lengthAdjust="spacingAndGlyphs" stroke="#000" stroke-width="0.2">1.13795</text>
<text x="1425" y="167" font-family='"Liberation Sans", sans-serif' font-size="10.5" fill="#000" font-weight="normal" text-anchor="start" textLength="33" lengthAdjust="spacingAndGlyphs" stroke="#000" stroke-width="0.2">1.13515</text>
<text x="1425" y="199" font-family='"Liberation Sans", sans-serif' font-size="10.5" fill="#000" font-weight="normal" text-anchor="start" textLength="33" lengthAdjust="spacingAndGlyphs" stroke="#000" stroke-width="0.2">1.13240</text>
<text x="1425" y="232" font-family='"Liberation Sans", sans-serif' font-size="10.5" fill="#000" font-weight="normal" text-anchor="start" textLength="33" lengthAdjust="spacingAndGlyphs" stroke="#000" stroke-width="0.2">1.12960</text>
<text x="1425" y="265" font-family='"Liberation Sans", sans-serif' font-size="10.5" fill="#000" font-weight="normal" text-anchor="start" textLength="33" lengthAdjust="spacingAndGlyphs" stroke="#000" stroke-width="0.2">1.12680</text>
<text x="1425" y="299" font-family='"Liberation Sans", sans-serif' font-size="10.5" fill="#000" font-weight="normal" text-anchor="start" textLength="33" lengthAdjust="spacingAndGlyphs" stroke="#000" stroke-width="0.2">1.12400</text>
<text x="1425" y="332" font-family='"Liberation Sans", sans-serif' font-size="10.5" fill="#000" font-weight="normal" text-anchor="start" textLength="33" lengthAdjust="spacingAndGlyphs" stroke="#000" stroke-width="0.2">1.12120</text>
<text x="1425" y="364" font-family='"Liberation Sans", sans-serif' font-size="10.5" fill="#000" font-weight="normal" text-anchor="start" textLength="33" lengthAdjust="spacingAndGlyphs" stroke="#000" stroke-width="0.2">1.11845</text>
<text x="1425" y="397" font-family='"Liberation Sans", sans-serif' font-size="10.5" fill="#000" font-weight="normal" text-anchor="start" textLength="33" lengthAdjust="spacingAndGlyphs" stroke="#000" stroke-width="0.2">1.11565</text>
<text x="1425" y="431" font-family='"Liberation Sans", sans-serif' font-size="10.5" fill="#000" font-weight="normal" text-anchor="start" textLength="33" lengthAdjust="spacingAndGlyphs" stroke="#000" stroke-width="0.2">1.11285</text>
<text x="1425" y="464" font-family='"Liberation Sans", sans-serif' font-size="10.5" fill="#000" font-weight="normal" text-anchor="start" textLength="33" lengthAdjust="spacingAndGlyphs" stroke="#000" stroke-width="0.2">1.11005</text>
<text x="1425" y="497" font-family='"Liberation Sans", sans-serif' font-size="10.5" fill="#000" font-weight="normal" text-anchor="start" textLength="33" lengthAdjust="spacingAndGlyphs" stroke="#000" stroke-width="0.2">1.10725</text>
<text x="1425" y="530" font-family='"Liberation Sans", sans-serif' font-size="10.5" fill="#000" font-weight="normal" text-anchor="start" textLength="33" lengthAdjust="spacingAndGlyphs" stroke="#000" stroke-width="0.2">1.10450</text>
<text x="1425" y="563" font-family='"Liberation Sans", sans-serif' font-size="10.5" fill="#000" font-weight="normal" text-anchor="start" textLength="33" lengthAdjust="spacingAndGlyphs" stroke="#000" stroke-width="0.2">1.10170</text>
<rect x="1421" y="457" width="41" height="11" fill="#000"/>
<text x="1425" y="466" font-family='"Liberation Sans", sans-serif' font-size="10.5" fill="#fff" font-weight="normal" text-anchor="start" textLength="33" lengthAdjust="spacingAndGlyphs" stroke="#fff" stroke-width="0.2">1.10981</text>
<rect x="1421" y="98" width="41" height="11" fill="#ff0000" shape-rendering="crispEdges"/>
<text x="1425" y="107" font-family='"Liberation Sans", sans-serif' font-size="10.5" fill="#fff" font-weight="normal" text-anchor="start" textLength="33" lengthAdjust="spacingAndGlyphs" stroke="#fff" stroke-width="0.2">1.14009</text>
<rect x="1421" y="235" width="41" height="11" fill="#ff0000" shape-rendering="crispEdges"/>
<text x="1425" y="244" font-family='"Liberation Sans", sans-serif' font-size="10.5" fill="#fff" font-weight="normal" text-anchor="start" textLength="33" lengthAdjust="spacingAndGlyphs" stroke="#fff" stroke-width="0.2">1.12851</text>
<rect x="1421" y="347" width="41" height="11" fill="#00ff00" shape-rendering="crispEdges"/>
<text x="1425" y="356" font-family='"Liberation Sans", sans-serif' font-size="10.5" fill="#fff" font-weight="normal" text-anchor="start" textLength="33" lengthAdjust="spacingAndGlyphs" stroke="#fff" stroke-width="0.2">1.11901</text>
<rect x="1421" y="454" width="41" height="11" fill="#0000ff" shape-rendering="crispEdges"/>
<text x="1425" y="463" font-family='"Liberation Sans", sans-serif' font-size="10.5" fill="#fff" font-weight="normal" text-anchor="start" textLength="33" lengthAdjust="spacingAndGlyphs" stroke="#fff" stroke-width="0.2">1.11000</text>
<rect x="1421" y="549" width="41" height="11" fill="#0000ff" shape-rendering="crispEdges"/>
<text x="1425" y="558" font-family='"Liberation Sans", sans-serif' font-size="10.5" fill="#fff" font-weight="normal" text-anchor="start" textLength="33" lengthAdjust="spacingAndGlyphs" stroke="#fff" stroke-width="0.2">1.10201</text>
<rect x="1420" y="565" width="2" height="1" fill="#000"/>
<rect x="1420" y="613" width="2" height="1" fill="#000"/>
<rect x="1420" y="665" width="2" height="1" fill="#000"/>
<text x="1423" y="574" font-family='"Liberation Sans", sans-serif' font-size="10.5" fill="#000" font-weight="normal" text-anchor="start" textLength="38" lengthAdjust="spacingAndGlyphs" stroke="#000" stroke-width="0.2">0.004517</text>
<text x="1423" y="617" font-family='"Liberation Sans", sans-serif' font-size="10.5" fill="#000" font-weight="normal" text-anchor="start" textLength="18.5" lengthAdjust="spacingAndGlyphs" stroke="#000" stroke-width="0.2">0.00</text>
<text x="1423" y="663" font-family='"Liberation Sans", sans-serif' font-size="10.5" fill="#000" font-weight="normal" text-anchor="start" textLength="42" lengthAdjust="spacingAndGlyphs" stroke="#000" stroke-width="0.2">-0.004806</text>
<rect x="1420" y="670" width="2" height="1" fill="#000"/>
<rect x="1420" y="797" width="2" height="1" fill="#000"/>
<text x="1423" y="679" font-family='"Liberation Sans", sans-serif' font-size="10.5" fill="#000" font-weight="normal" text-anchor="start" textLength="15" lengthAdjust="spacingAndGlyphs" stroke="#000" stroke-width="0.2">100</text>
<text x="1423" y="712" font-family='"Liberation Sans", sans-serif' font-size="10.5" fill="#000" font-weight="normal" text-anchor="start" textLength="10" lengthAdjust="spacingAndGlyphs" stroke="#000" stroke-width="0.2">70</text>
<text x="1423" y="763" font-family='"Liberation Sans", sans-serif' font-size="10.5" fill="#000" font-weight="normal" text-anchor="start" textLength="10" lengthAdjust="spacingAndGlyphs" stroke="#000" stroke-width="0.2">30</text>
<text x="1423" y="795" font-family='"Liberation Sans", sans-serif' font-size="10.5" fill="#000" font-weight="normal" text-anchor="start" textLength="5" lengthAdjust="spacingAndGlyphs" stroke="#000" stroke-width="0.2">0</text>
<g shape-rendering="crispEdges">
<rect x="4" y="799" width="1" height="3" fill="#000"/>
<rect x="68" y="799" width="1" height="3" fill="#000"/>
<rect x="132" y="799" width="1" height="3" fill="#000"/>
<rect x="196" y="799" width="1" height="3" fill="#000"/>
<rect x="260" y="799" width="1" height="3" fill="#000"/>
<rect x="324" y="799" width="1" height="3" fill="#000"/>
<rect x="388" y="799" width="1" height="3" fill="#000"/>
<rect x="452" y="799" width="1" height="3" fill="#000"/>
<rect x="516" y="799" width="1" height="3" fill="#000"/>
<rect x="580" y="799" width="1" height="3" fill="#000"/>
<rect x="644" y="799" width="1" height="3" fill="#000"/>
<rect x="708" y="799" width="1" height="3" fill="#000"/>
<rect x="772" y="799" width="1" height="3" fill="#000"/>
<rect x="836" y="799" width="1" height="3" fill="#000"/>
<rect x="900" y="799" width="1" height="3" fill="#000"/>
<rect x="964" y="799" width="1" height="3" fill="#000"/>
<rect x="1028" y="799" width="1" height="3" fill="#000"/>
<rect x="1092" y="799" width="1" height="3" fill="#000"/>
</g>
<text x="3" y="811" font-family='"Liberation Sans", sans-serif' font-size="10" fill="#000" font-weight="normal" text-anchor="start" textLength="46.8" lengthAdjust="spacingAndGlyphs" stroke="#000" stroke-width="0.2">6 Mar 2019</text>
<text x="67" y="811" font-family='"Liberation Sans", sans-serif' font-size="10" fill="#000" font-weight="normal" text-anchor="start" textLength="51.9" lengthAdjust="spacingAndGlyphs" stroke="#000" stroke-width="0.2">15 Mar 2019</text>
<text x="131" y="811" font-family='"Liberation Sans", sans-serif' font-size="10" fill="#000" font-weight="normal" text-anchor="start" textLength="51.9" lengthAdjust="spacingAndGlyphs" stroke="#000" stroke-width="0.2">25 Mar 2019</text>
<text x="195" y="811" font-family='"Liberation Sans", sans-serif' font-size="10" fill="#000" font-weight="normal" text-anchor="start" textLength="44.8" lengthAdjust="spacingAndGlyphs" stroke="#000" stroke-width="0.2">3 Apr 2019</text>
<text x="259" y="811" font-family='"Liberation Sans", sans-serif' font-size="10" fill="#000" font-weight="normal" text-anchor="start" textLength="49.9" lengthAdjust="spacingAndGlyphs" stroke="#000" stroke-width="0.2">12 Apr 2019</text>
<text x="323" y="811" font-family='"Liberation Sans", sans-serif' font-size="10" fill="#000" font-weight="normal" text-anchor="start" textLength="49.9" lengthAdjust="spacingAndGlyphs" stroke="#000" stroke-width="0.2">23 Apr 2019</text>
<text x="387" y="811" font-family='"Liberation Sans", sans-serif' font-size="10" fill="#000" font-weight="normal" text-anchor="start" textLength="48.4" lengthAdjust="spacingAndGlyphs" stroke="#000" stroke-width="0.2">2 May 2019</text>
<text x="451" y="811" font-family='"Liberation Sans", sans-serif' font-size="10" fill="#000" font-weight="normal" text-anchor="start" textLength="53.5" lengthAdjust="spacingAndGlyphs" stroke="#000" stroke-width="0.2">12 May 2019</text>
<text x="515" y="811" font-family='"Liberation Sans", sans-serif' font-size="10" fill="#000" font-weight="normal" text-anchor="start" textLength="53.5" lengthAdjust="spacingAndGlyphs" stroke="#000" stroke-width="0.2">21 May 2019</text>
<text x="579" y="811" font-family='"Liberation Sans", sans-serif' font-size="10" fill="#000" font-weight="normal" text-anchor="start" textLength="53.5" lengthAdjust="spacingAndGlyphs" stroke="#000" stroke-width="0.2">30 May 2019</text>
<text x="643" y="811" font-family='"Liberation Sans", sans-serif' font-size="10" fill="#000" font-weight="normal" text-anchor="start" textLength="45.8" lengthAdjust="spacingAndGlyphs" stroke="#000" stroke-width="0.2">9 Jun 2019</text>
<text x="707" y="811" font-family='"Liberation Sans", sans-serif' font-size="10" fill="#000" font-weight="normal" text-anchor="start" textLength="50.9" lengthAdjust="spacingAndGlyphs" stroke="#000" stroke-width="0.2">18 Jun 2019</text>
<text x="771" y="811" font-family='"Liberation Sans", sans-serif' font-size="10" fill="#000" font-weight="normal" text-anchor="start" textLength="50.9" lengthAdjust="spacingAndGlyphs" stroke="#000" stroke-width="0.2">27 Jun 2019</text>
<text x="835" y="811" font-family='"Liberation Sans", sans-serif' font-size="10" fill="#000" font-weight="normal" text-anchor="start" textLength="42.6" lengthAdjust="spacingAndGlyphs" stroke="#000" stroke-width="0.2">7 Jul 2019</text>
<text x="899" y="811" font-family='"Liberation Sans", sans-serif' font-size="10" fill="#000" font-weight="normal" text-anchor="start" textLength="47.8" lengthAdjust="spacingAndGlyphs" stroke="#000" stroke-width="0.2">16 Jul 2019</text>
<text x="963" y="811" font-family='"Liberation Sans", sans-serif' font-size="10" fill="#000" font-weight="normal" text-anchor="start" textLength="47.8" lengthAdjust="spacingAndGlyphs" stroke="#000" stroke-width="0.2">25 Jul 2019</text>
<text x="1027" y="811" font-family='"Liberation Sans", sans-serif' font-size="10" fill="#000" font-weight="normal" text-anchor="start" textLength="46.8" lengthAdjust="spacingAndGlyphs" stroke="#000" stroke-width="0.2">4 Aug 2019</text>
<text x="1091" y="811" font-family='"Liberation Sans", sans-serif' font-size="10" fill="#000" font-weight="normal" text-anchor="start" textLength="52.0" lengthAdjust="spacingAndGlyphs" stroke="#000" stroke-width="0.2">13 Aug 2019</text>
<polygon points="7,33.5 14.5,33.5 10.75,29" fill="#000"/>
<text x="19.5" y="34" font-family='"Liberation Sans", sans-serif' font-size="11" fill="#000" font-weight="normal" text-anchor="start" textLength="66" lengthAdjust="spacingAndGlyphs" stroke="#000" stroke-width="0.1">EURUSD-,Daily</text>
<text x="93" y="34" font-family='"Liberation Sans", sans-serif' font-size="11" fill="#000" font-weight="normal" text-anchor="start" textLength="139.5" lengthAdjust="spacingAndGlyphs" stroke="#000" stroke-width="0.1">1.11103 1.11107 1.10959 1.10981</text>
<text x="8" y="576" font-family='"Liberation Sans", sans-serif' font-size="11" fill="#000" font-weight="normal" text-anchor="start" textLength="153" lengthAdjust="spacingAndGlyphs" stroke="#000" stroke-width="0.1">MACD(12,26,9) -0.001733 -0.001141</text>
<text x="8" y="681" font-family='"Liberation Sans", sans-serif' font-size="11" fill="#000" font-weight="normal" text-anchor="start" textLength="68" lengthAdjust="spacingAndGlyphs" stroke="#000" stroke-width="0.1">RSI(14) 38.3199</text>
<text x="6.5" y="10" font-family='"Liberation Sans", sans-serif' font-size="10" fill="#333" font-weight="normal" text-anchor="start" textLength="12.5" lengthAdjust="spacingAndGlyphs">H4</text>
<text x="35.5" y="10" font-family='"Liberation Sans", sans-serif' font-size="10" fill="#333" font-weight="normal" text-anchor="start" textLength="12" lengthAdjust="spacingAndGlyphs">D1</text>
<text x="63" y="10" font-family='"Liberation Sans", sans-serif' font-size="10" fill="#333" font-weight="normal" text-anchor="start" textLength="14" lengthAdjust="spacingAndGlyphs">W1</text>
<text x="89.5" y="10" font-family='"Liberation Sans", sans-serif' font-size="10" fill="#333" font-weight="normal" text-anchor="start" textLength="14.5" lengthAdjust="spacingAndGlyphs">MN</text>
<rect x="1" y="819" width="1462" height="1" fill="#e3e3e3"/>
<rect x="0" y="821" width="1462" height="1" fill="#000"/>
<rect x="0" y="822" width="1462" height="22" fill="#f0f0f0"/>
<rect x="0" y="841" width="1462" height="1" fill="#fbfbfb"/>
<rect x="0" y="822" width="1" height="18" fill="#6e6e6e"/>
<rect x="1" y="822" width="4" height="18" fill="#e8e8e8"/>
<rect x="6" y="821" width="107" height="19" fill="#fff"/>
<path d="M5.5,821 V839.5 H112.5 V821" fill="none" stroke="#000" stroke-width="1"/>
<text x="16.5" y="835.5" font-family='"Liberation Sans", sans-serif' font-size="12" fill="#000" font-weight="normal" text-anchor="start" textLength="84.5" lengthAdjust="spacingAndGlyphs">EURUSD-,Daily</text>
<text x="123.3" y="835.5" font-family='"Liberation Sans", sans-serif' font-size="12" fill="#6d6d6d" font-weight="normal" text-anchor="start" textLength="86.8" lengthAdjust="spacingAndGlyphs">AUDUSD-,Daily</text>
<rect x="221" y="826" width="1" height="11" fill="#7a7a7a"/>
<text x="233.4" y="835.5" font-family='"Liberation Sans", sans-serif' font-size="12" fill="#6d6d6d" font-weight="normal" text-anchor="start" textLength="83.8" lengthAdjust="spacingAndGlyphs">USDCHF-,Daily</text>
<rect x="329" y="826" width="1" height="11" fill="#7a7a7a"/>
<text x="340.4" y="835.5" font-family='"Liberation Sans", sans-serif' font-size="12" fill="#6d6d6d" font-weight="normal" text-anchor="start" textLength="85.6" lengthAdjust="spacingAndGlyphs">USDCAD-,Daily</text>
<rect x="438" y="826" width="1" height="11" fill="#7a7a7a"/>
<text x="449.5" y="835.5" font-family='"Liberation Sans", sans-serif' font-size="12" fill="#6d6d6d" font-weight="normal" text-anchor="start" textLength="87.5" lengthAdjust="spacingAndGlyphs">USDCNH-,Daily</text>
<rect x="549" y="826" width="1" height="11" fill="#7a7a7a"/>
<text x="560.5" y="835.5" font-family='"Liberation Sans", sans-serif' font-size="12" fill="#6d6d6d" font-weight="normal" text-anchor="start" textLength="96.7" lengthAdjust="spacingAndGlyphs">EURCHF-,Weekly</text>
<rect x="670" y="826" width="1" height="11" fill="#7a7a7a"/>
<text x="681" y="835.5" font-family='"Liberation Sans", sans-serif' font-size="12" fill="#6d6d6d" font-weight="normal" text-anchor="start" textLength="100" lengthAdjust="spacingAndGlyphs">XAUUSD-,Weekly</text>
<rect x="794" y="826" width="1" height="11" fill="#7a7a7a"/>
<text x="804.3" y="835.5" font-family='"Liberation Sans", sans-serif' font-size="12" fill="#6d6d6d" font-weight="normal" text-anchor="start" textLength="72.3" lengthAdjust="spacingAndGlyphs">GBPUSD-,H1</text>
<rect x="890" y="826" width="1" height="11" fill="#7a7a7a"/>
<text x="900.6" y="835.5" font-family='"Liberation Sans", sans-serif' font-size="12" fill="#6d6d6d" font-weight="normal" text-anchor="start" textLength="55.7" lengthAdjust="spacingAndGlyphs">UKOil-,H1</text>
<rect x="970" y="826" width="1" height="11" fill="#7a7a7a"/>
<text x="979.6" y="835.5" font-family='"Liberation Sans", sans-serif' font-size="12" fill="#6d6d6d" font-weight="normal" text-anchor="start" textLength="82.1" lengthAdjust="spacingAndGlyphs">USDX-,Weekly</text>
<rect x="1074" y="826" width="1" height="11" fill="#7a7a7a"/>
<polygon points="1438.5,827 1438.5,834 1434.5,830.5" fill="#a0a0a0"/>
<polygon points="1453.5,827 1453.5,834 1457.5,830.5" fill="#a0a0a0"/>
<rect x="6" y="41" width="222" height="66" fill="#fff"/>
<g>
<rect x="7" y="42" width="52" height="24" fill="url(#pg)"/>
<rect x="174" y="42" width="52" height="24" fill="url(#pg)"/>
<rect x="7" y="66" width="109" height="40" fill="url(#pg2)"/>
<rect x="118" y="66" width="108" height="40" fill="url(#pg2)"/>
</g>
<rect x="7" y="42" width="52" height="24" fill="url(#pg3)"/>
<rect x="174" y="42" width="52" height="24" fill="url(#pg3)"/>
<rect x="11" y="66" width="44" height="1" fill="#8a8af8"/>
<rect x="178" y="66" width="44" height="1" fill="#8a8af8"/>
<rect x="61.5" y="42.5" width="110" height="21" fill="#fff" stroke="#a8a8a8"/>
<rect x="62" y="43" width="20" height="20" fill="url(#btn)"/>
<rect x="82" y="43" width="1" height="20" fill="#b0b0b0"/>
<rect x="150" y="43" width="1" height="20" fill="#b0b0b0"/>
<rect x="151" y="43" width="20" height="20" fill="url(#btn)"/>
<polygon points="68.5,51 74.5,51 71.5,54" fill="#5060a0"/>
<polygon points="157.5,54 163.5,54 160.5,51" fill="#8090c0"/>
<text x="147.3" y="57" font-family='"Liberation Sans", sans-serif' font-size="12.5" fill="#000" font-weight="normal" text-anchor="end" textLength="23.5" lengthAdjust="spacingAndGlyphs">1.00</text>
<text x="19.5" y="58" font-family='"Liberation Sans", sans-serif' font-size="12.5" fill="#e8ecff" font-weight="normal" text-anchor="start" textLength="25.5" lengthAdjust="spacingAndGlyphs">SELL</text>
<text x="187" y="58" font-family='"Liberation Sans", sans-serif' font-size="12.5" fill="#e8ecff" font-weight="normal" text-anchor="start" textLength="24" lengthAdjust="spacingAndGlyphs">BUY</text>
<text x="26.5" y="96.5" font-family='"Liberation Sans", sans-serif' font-size="12" fill="#fff" font-weight="bold" text-anchor="start" textLength="24.5" lengthAdjust="spacingAndGlyphs">1.10</text>
<text x="53.5" y="96.5" font-family='"Liberation Sans", sans-serif' font-size="31" fill="#fff" font-weight="normal" text-anchor="start" textLength="38.5" lengthAdjust="spacingAndGlyphs">98</text>
<text x="94.5" y="80.7" font-family='"Liberation Sans", sans-serif' font-size="10.5" fill="#fff" font-weight="bold" text-anchor="start" textLength="6" lengthAdjust="spacingAndGlyphs">1</text>
<text x="136.5" y="96.5" font-family='"Liberation Sans", sans-serif' font-size="12" fill="#fff" font-weight="bold" text-anchor="start" textLength="24.5" lengthAdjust="spacingAndGlyphs">1.10</text>
<text x="165" y="96.5" font-family='"Liberation Sans", sans-serif' font-size="31" fill="#fff" font-weight="normal" text-anchor="start" textLength="38.5" lengthAdjust="spacingAndGlyphs">99</text>
<text x="205.5" y="80.7" font-family='"Liberation Sans", sans-serif' font-size="10.5" fill="#fff" font-weight="bold" text-anchor="start" textLength="6.5" lengthAdjust="spacingAndGlyphs">9</text>
</svg></body></html>
